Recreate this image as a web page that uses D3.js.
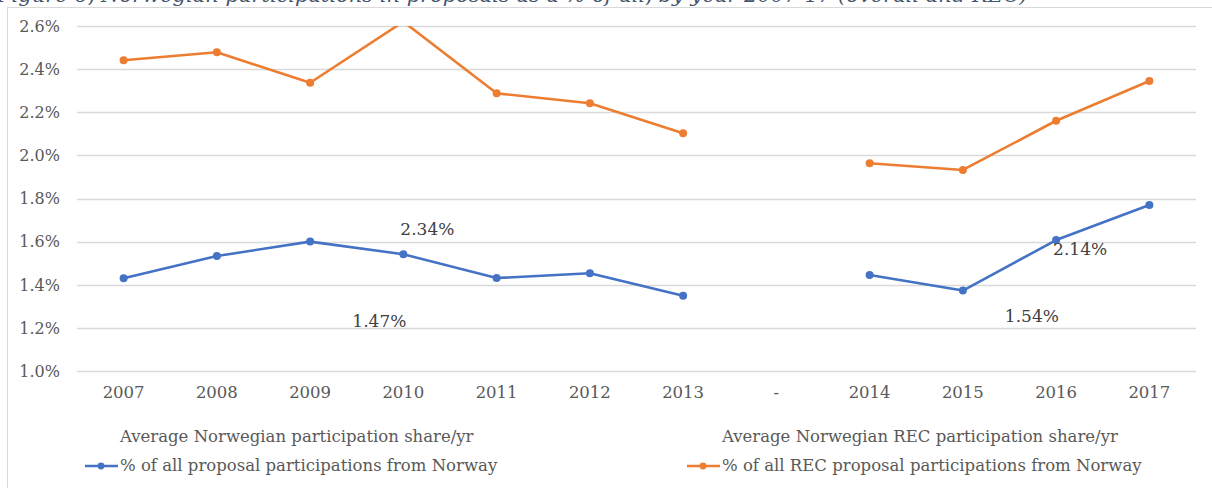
<!DOCTYPE html>
<html><head><meta charset="utf-8">
<script src="https://cdn.jsdelivr.net/npm/d3@7"></script>
<style>
html,body{margin:0;padding:0;background:#fff;}
svg{display:block;font-family:"DejaVu Serif",serif;}
</style></head>
<body>
<svg id="chart" width="1212" height="488"></svg>
<script>
const categories = ["2007","2008","2009","2010","2011","2012","2013","-","2014","2015","2016","2017"];
const overallShare = [1.431,1.534,1.601,1.542,1.432,1.454,1.350,null,1.446,1.374,1.608,1.771];
const recShare = [2.441,2.478,2.337,2.62,2.288,2.242,2.103,null,1.964,1.933,2.161,2.345];
const yTicks = [1.0,1.2,1.4,1.6,1.8,2.0,2.2,2.4,2.6];
const averageLabels = [
  {text:"2.34%", cat:"2010", value:1.632, dx:24},
  {text:"1.47%", cat:"2010", value:1.205, dx:-24},
  {text:"2.14%", cat:"2016", value:1.539, dx:24},
  {text:"1.54%", cat:"2015", value:1.228, dx:69}
];
const titleText = "Figure 6, Norwegian participations in proposals as a % of all, by year 2007-17 (overall and REC)";
const legendItems = [
  {label:"Average Norwegian participation share/yr", type:"none"},
  {label:"Average Norwegian REC participation share/yr", type:"none"},
  {label:"% of all proposal participations from Norway", type:"line", color:"#4472C4"},
  {label:"% of all REC proposal participations from Norway", type:"line", color:"#ED7D31"}
];

const svg = d3.select("#chart");
const plot = {left:77, right:1196, top:26, bottom:371.3};

const defs = svg.append("defs");
defs.append("clipPath").attr("id","plotclip").attr("clipPathUnits","userSpaceOnUse")
  .append("rect")
  .attr("x",plot.left-10).attr("y",plot.top).attr("width",plot.right-plot.left+20).attr("height",plot.bottom-plot.top+10);

// chart border
svg.append("rect").attr("x",7.5).attr("y",7.5).attr("width",1230).attr("height",500)
  .attr("fill","none").attr("stroke","#D9D9D9").attr("stroke-width",1);

// title (clipped at top, as in the source)
svg.append("text").attr("x",-3).attr("y",2).attr("font-style","italic")
  .attr("font-size",21).attr("fill","#44546A").text(titleText);

const x = d3.scaleBand().domain(categories).range([plot.left, plot.right]);
const y = d3.scaleLinear().domain([1.0,2.6]).range([plot.bottom, plot.top]);

// gridlines
svg.append("g").selectAll("line").data(yTicks).join("line")
  .attr("x1",plot.left).attr("x2",plot.right)
  .attr("y1",d=>Math.round(y(d))+0.5).attr("y2",d=>Math.round(y(d))+0.5)
  .attr("stroke","#D9D9D9").attr("stroke-width",1.3);

// y axis labels
const yAxis = d3.axisLeft(y).tickValues(yTicks).tickSize(0).tickPadding(0)
  .tickFormat(d=>d.toFixed(1)+"%");
const gy = svg.append("g").attr("transform",`translate(${60},0)`).call(yAxis);
gy.select(".domain").remove();
gy.selectAll("text").attr("font-family","DejaVu Serif").attr("font-size",16).attr("fill","#595959");

// x axis labels
const xAxis = d3.axisBottom(x).tickSize(0).tickPadding(0);
const gx = svg.append("g").attr("transform",`translate(0,${386})`).call(xAxis);
gx.select(".domain").remove();
gx.selectAll("text").attr("font-family","DejaVu Serif").attr("font-size",16.5).attr("fill","#595959");

const line = d3.line().defined(d=>d.v!=null)
  .x(d=>x(d.c)+x.bandwidth()/2).y(d=>y(d.v));

function drawSeries(vals,color){
  const data = categories.map((c,i)=>({c, v:vals[i]}));
  const g = svg.append("g").attr("clip-path","url(#plotclip)");
  g.append("path").datum(data).attr("d",line).attr("fill","none")
    .attr("stroke",color).attr("stroke-width",2.6).attr("stroke-linejoin","round");
  g.selectAll("circle").data(data.filter(d=>d.v!=null)).join("circle")
    .attr("cx",d=>x(d.c)+x.bandwidth()/2).attr("cy",d=>y(d.v)).attr("r",4).attr("fill",color);
}
drawSeries(recShare,"#ED7D31");
drawSeries(overallShare,"#4472C4");

// average labels
svg.append("g").selectAll("text").data(averageLabels).join("text")
  .attr("x",d=>x(d.cat)+x.bandwidth()/2+d.dx).attr("y",d=>y(d.value))
  .attr("text-anchor","middle").attr("font-size",17).attr("fill","#404040").text(d=>d.text);

// legend
const legendPos = [
  {x:120, y:442},{x:722, y:442},{x:120, y:471},{x:722, y:471}
];
const lg = svg.append("g");
legendItems.forEach((it,i)=>{
  const p = legendPos[i];
  if(it.type==="line"){
    lg.append("line").attr("x1",p.x-35).attr("x2",p.x-2).attr("y1",p.y-5).attr("y2",p.y-5)
      .attr("stroke",it.color).attr("stroke-width",2.6);
    lg.append("circle").attr("cx",p.x-19).attr("cy",p.y-5).attr("r",3.4).attr("fill",it.color);
  }
  lg.append("text").attr("x",p.x).attr("y",p.y).attr("font-size",16.5).attr("fill","#595959")
    .text(it.label);
});
</script>
</body></html>
